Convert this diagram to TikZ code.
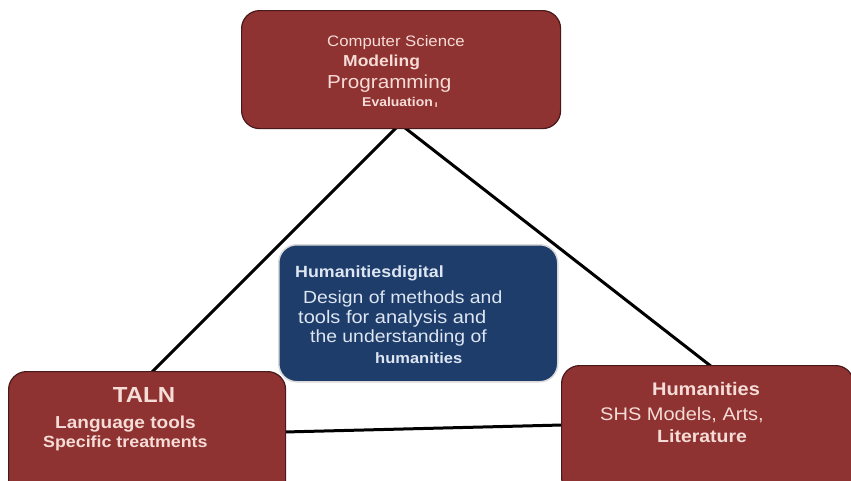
\documentclass[tikz,border=0pt]{standalone}
\usepackage{fontspec}
\setmainfont[FakeStretch=1.1]{Liberation Sans}
\definecolor{boxred}{HTML}{8E3232}
\definecolor{boxredline}{HTML}{4A1A1A}
\definecolor{boxblue}{HTML}{1E3D6A}
\definecolor{redtext}{HTML}{F6DCD6}
\definecolor{bluetext}{HTML}{DDE6F2}
\newcommand{\fs}[1]{\fontsize{#1}{#1}\selectfont}
\begin{document}
\begin{tikzpicture}[x=1pt,y=-1pt,
  redbox/.style={draw=boxredline,line width=1.2pt,fill=boxred,rounded corners=18pt},
  bluebox/.style={draw=white!85!black,line width=1.5pt,fill=boxblue,rounded corners=18pt},
  conn/.style={line width=3pt,black},
  rt/.style={text=redtext,anchor=base,inner sep=0pt},
  rtl/.style={text=redtext,anchor=base west,inner sep=0pt},
  bt/.style={text=bluetext,anchor=base west,inner sep=0pt}]
\useasboundingbox (0,0) rectangle (851,480);
\clip (0,0) rectangle (851,480);
% connectors
\coordinate (apex) at (400,124);
\coordinate (lend) at (150,374);
\coordinate (rend) at (712,367);
\coordinate (bl) at (284,432);
\coordinate (br) at (562,425);
\draw[conn] (lend) -- (apex) -- (rend);
\draw[conn] (bl) -- (br);
% boxes
\node[redbox,minimum width=319pt,minimum height=118pt,anchor=north west] (cs) at (241,10) {};
\node[bluebox,minimum width=279pt,minimum height=137pt,anchor=north west] (hd) at (278,244) {};
\node[redbox,minimum width=277pt,minimum height=130pt,anchor=north west] (taln) at (8,371) {};
\node[redbox,minimum width=292pt,minimum height=130pt,anchor=north west] (hum) at (561,365) {};
% top texts
\node[rtl,font=\fs{15.2}] (t1) at (327,46) {Computer Science};
\node[rtl,font=\fs{15.9}\bfseries] (t2) at (343,66) {Modeling};
\node[rtl,font=\fs{18.8}] (t3) at (327,88) {Programming};
\node[rtl,font=\fs{12.7}\bfseries] (t4) at (362,106) {Evaluation\,\raisebox{-1.5pt}{\fs{9}ı}};
% center texts
\node[bt,font=\fs{16.2}\bfseries] (c1) at (295,277) {Humanitiesdigital};
\node[bt,font=\fs{17.6}] (c2) at (303,303) {Design of methods and};
\node[bt,font=\fs{18.2}] (c3) at (298,323) {tools for analysis and};
\node[bt,font=\fs{17.6}] (c4) at (310,342) {the understanding of};
\node[bt,font=\fs{15}\bfseries] (c5) at (375,363) {humanities};
% left texts
\node[rt,font=\fs{21.8}\bfseries] (l1) at (144,402) {TALN};
\node[rtl,font=\fs{17.3}\bfseries] (l2) at (55,428) {Language tools};
\node[rtl,font=\fs{16.2}\bfseries] (l3) at (43,447) {Specific treatments};
% right texts
\node[rt,font=\fs{18.2}\bfseries] (r1) at (706,395) {Humanities};
\node[rtl,font=\fs{18.2}] (r2) at (600,420) {SHS Models, Arts,};
\node[rtl,font=\fs{17.7}\bfseries] (r3) at (657,442) {Literature};
\end{tikzpicture}
\end{document}
